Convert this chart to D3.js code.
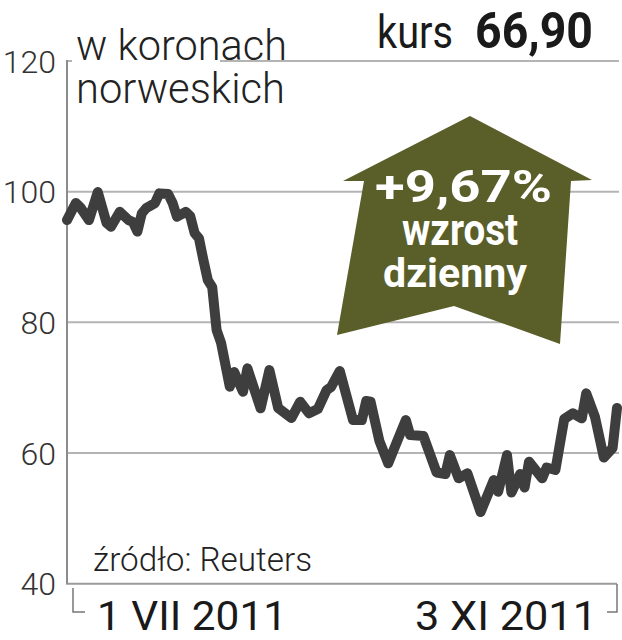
<!DOCTYPE html>
<html><head><meta charset="utf-8">
<script src="https://cdn.jsdelivr.net/npm/d3@7"></script>
<style>
html,body{margin:0;padding:0;background:#fff;}
svg{display:block;font-family:Roboto,"Noto Sans",sans-serif;}
</style></head>
<body><svg id="c" width="622" height="640"></svg>
<script>
// ---- data ----
const dates = [
 "2011-07-01","2011-07-03","2011-07-04","2011-07-06","2011-07-08","2011-07-10","2011-07-11","2011-07-13",
 "2011-07-15","2011-07-16","2011-07-17","2011-07-18","2011-07-19","2011-07-21","2011-07-22","2011-07-24",
 "2011-07-25","2011-07-26","2011-07-28","2011-07-29","2011-07-30","2011-07-31","2011-08-01","2011-08-02",
 "2011-08-03","2011-08-04","2011-08-05","2011-08-07","2011-08-08","2011-08-10","2011-08-11","2011-08-14",
 "2011-08-16","2011-08-18","2011-08-21","2011-08-23","2011-08-25","2011-08-27","2011-08-29","2011-08-30",
 "2011-09-01","2011-09-04","2011-09-06","2011-09-07","2011-09-08","2011-09-10","2011-09-12","2011-09-14",
 "2011-09-16","2011-09-17","2011-09-20","2011-09-23","2011-09-25","2011-09-26","2011-09-28","2011-09-30",
 "2011-10-03","2011-10-06","2011-10-07","2011-10-09","2011-10-10","2011-10-12","2011-10-13","2011-10-14",
 "2011-10-17","2011-10-18","2011-10-20","2011-10-22","2011-10-24","2011-10-26","2011-10-27","2011-10-29",
 "2011-10-31","2011-11-02","2011-11-03"
];
const prices = [
 95.65,98.26,97.64,95.65,99.94,95.20,94.63,96.92,
 95.65,95.35,93.89,96.68,97.49,98.26,99.74,99.63,
 98.26,96.16,96.92,96.27,93.66,92.85,89.53,86.47,
 85.40,78.82,76.91,70.15,72.39,69.38,72.96,66.84,
 72.70,66.89,65.36,67.85,66.08,66.73,69.64,70.10,
 72.55,65.05,65.05,67.96,67.85,61.84,58.42,61.73,
 65.05,62.75,62.60,57.02,56.79,59.69,56.13,56.89,
 50.97,55.87,54.08,59.69,53.96,56.79,54.72,58.67,
 56.13,57.78,57.40,65.20,66.08,65.31,69.14,65.51,
 59.31,60.77,66.90
];
const yTicks = [40, 60, 80, 100, 120];
const xLabels = ["1 VII 2011", "3 XI 2011"];
const titleLines = ["w koronach", "norweskich"];
const priceLabel = "kurs";
const priceValue = "66,90";
const changeLines = ["+9,67%", "wzrost", "dzienny"];
const sourceText = "źródło: Reuters";

// ---- chart ----
const parse = d3.timeParse("%Y-%m-%d");
const data = dates.map((d, i) => ({date: parse(d), value: prices[i]}));
const svg = d3.select("#c");

const x = d3.scaleTime()
  .domain([parse("2011-07-01"), parse("2011-11-03")])
  .range([67, 617]);
const y = d3.scaleLinear().domain([40, 120]).range([583.7, 61]);

// gridlines
svg.append("g").selectAll("line").data(yTicks.filter(t => t > 40)).join("line")
  .attr("x1", 67).attr("x2", 619)
  .attr("y1", d => y(d)).attr("y2", d => y(d))
  .attr("stroke", "#b4b4b4").attr("stroke-width", 2);

// baseline + axis
svg.append("line").attr("x1", 66).attr("x2", 617).attr("y1", y(40)).attr("y2", y(40))
  .attr("stroke", "#9a9a9a").attr("stroke-width", 2);
svg.append("line").attr("x1", 67).attr("x2", 67).attr("y1", y(120) - 1).attr("y2", y(40))
  .attr("stroke", "#8c8c8c").attr("stroke-width", 2);

// y labels
svg.append("g").selectAll("text").data(yTicks).join("text")
  .attr("x", 56).attr("y", d => y(d) + 11.5)
  .attr("text-anchor", "end")
  .attr("font-size", 32).attr("font-weight", 300).attr("fill", "#333")
  .text(d => d);

// title box (covers part of top gridline)
svg.append("rect").attr("x", 72).attr("y", 18).attr("width", 148).attr("height", 95).attr("fill", "#fff");
const titleY = [60, 103], titleW = [211, 209];
svg.append("g").selectAll("text").data(titleLines).join("text")
  .attr("x", 76).attr("y", (d, i) => titleY[i])
  .attr("font-size", 43).attr("font-weight", 300).attr("fill", "#222")
  .attr("textLength", (d, i) => titleW[i]).attr("lengthAdjust", "spacingAndGlyphs")
  .text(d => d);

// kurs
svg.append("text").attr("x", 377).attr("y", 48)
  .attr("font-size", 46).attr("font-weight", 400).attr("fill", "#1a1a1a")
  .attr("textLength", 76).attr("lengthAdjust", "spacingAndGlyphs")
  .text(priceLabel);
svg.append("text").attr("x", 475).attr("y", 48)
  .attr("font-size", 50).attr("font-weight", 700).attr("fill", "#1a1a1a")
  .attr("textLength", 118).attr("lengthAdjust", "spacingAndGlyphs")
  .text(priceValue);

// arrow
const arrowPts = [[470,116],[592,180],[571,181],[560,344],[454,306],[337,335],[364,181],[343,181]];
svg.append("path").attr("d", d3.line()(arrowPts) + "Z").attr("fill", "#5a5e29");
const chX = [375, 402, 383], chY = [202, 245, 287], chW = [177, 116, 144], chS = [44, 45, 41];
svg.append("g").selectAll("text").data(changeLines).join("text")
  .attr("x", (d, i) => chX[i]).attr("y", (d, i) => chY[i])
  .attr("font-size", (d, i) => chS[i]).attr("font-weight", 700).attr("fill", "#fff")
  .attr("textLength", (d, i) => chW[i]).attr("lengthAdjust", "spacingAndGlyphs")
  .text(d => d);

// price line
svg.append("path").datum(data)
  .attr("d", d3.line().x(d => x(d.date)).y(d => y(d.value)))
  .attr("fill", "none").attr("stroke", "#3e3e3e").attr("stroke-width", 10)
  .attr("stroke-linejoin", "round").attr("stroke-linecap", "round");

// source
svg.append("text").attr("x", 93).attr("y", 571)
  .attr("font-size", 34).attr("font-weight", 300).attr("fill", "#222")
  .attr("textLength", 219).attr("lengthAdjust", "spacingAndGlyphs")
  .text(sourceText);

// bottom brackets + date labels
svg.append("path").attr("d", "M73,588V612H85").attr("fill", "none").attr("stroke", "#777").attr("stroke-width", 1.5);
svg.append("path").attr("d", "M617,584V612H607").attr("fill", "none").attr("stroke", "#777").attr("stroke-width", 1.5);
const xlX = [97, 415], xlW = [190, 182];
svg.append("g").selectAll("text").data(xLabels).join("text")
  .attr("x", (d, i) => xlX[i]).attr("y", 630)
  .attr("font-size", 40).attr("font-weight", 400).attr("fill", "#1a1a1a")
  .attr("textLength", (d, i) => xlW[i]).attr("lengthAdjust", "spacingAndGlyphs")
  .text(d => d);
</script></body></html>
